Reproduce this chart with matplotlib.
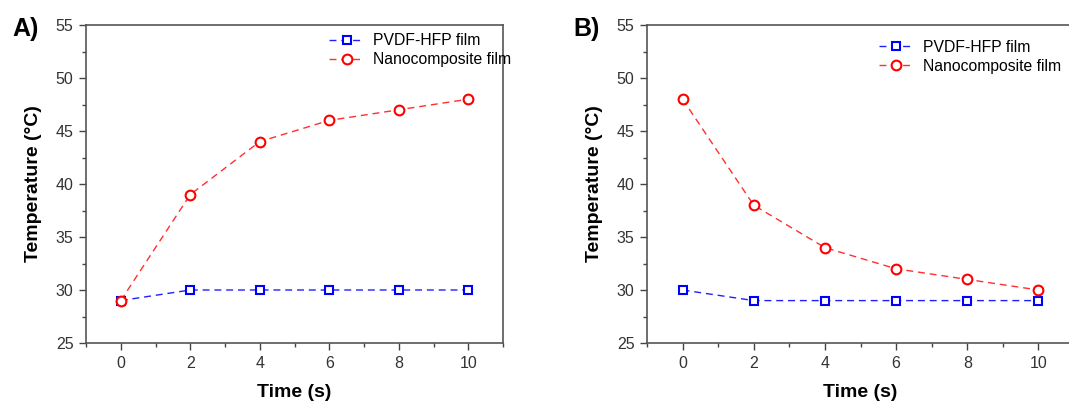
import matplotlib
matplotlib.use('Agg')
import matplotlib.pyplot as plt
from matplotlib.ticker import MultipleLocator

plt.rcParams['font.family'] = ['Liberation Sans', 'DejaVu Sans']

time_s = [0, 2, 4, 6, 8, 10]
heat_pvdf = [29, 30, 30, 30, 30, 30]
heat_nano = [29, 39, 44, 46, 47, 48]
cool_pvdf = [30, 29, 29, 29, 29, 29]
cool_nano = [48, 38, 34, 32, 31, 30]

panels = [
    ('A)', heat_pvdf, heat_nano, [86, 25, 503, 343], (0.565, 0.998)),
    ('B)', cool_pvdf, cool_nano, [647, 25, 1074, 343], (0.524, 0.978)),
]

W, H = 1069, 401
fig = plt.figure(figsize=(W / 100, H / 100), dpi=100)

for tag, pvdf, nano, box, leg_anchor in panels:
    x0, y0, x1, y1 = box
    ax = fig.add_axes([x0 / W, 1 - y1 / H, (x1 - x0) / W, (y1 - y0) / H])
    ax.plot(time_s, pvdf, ls='--', dashes=(5, 3.5), color='#2020ff', lw=1,
            marker='s', ms=5.5, mfc='white', mec='#0000ff', mew=1.5,
            label='PVDF-HFP film')
    ax.plot(time_s, nano, ls='--', dashes=(5, 3.5), color='#ff3030', lw=1,
            marker='o', ms=7, mfc='white', mec='#ff0000', mew=1.5,
            label='Nanocomposite film')
    ax.set_xlim(-1, 11)
    ax.set_ylim(25, 55)
    ax.xaxis.set_major_locator(MultipleLocator(2))
    ax.xaxis.set_minor_locator(MultipleLocator(1))
    ax.yaxis.set_major_locator(MultipleLocator(5))
    ax.yaxis.set_minor_locator(MultipleLocator(2.5))
    ax.tick_params(which='both', direction='out', color='#444444',
                   labelsize=11.5, labelcolor='#333333')
    ax.tick_params(which='major', length=5, width=1, pad=4)
    ax.tick_params(which='minor', length=3, width=1)
    for sp in ax.spines.values():
        sp.set_color('#555555')
        sp.set_linewidth(1.2)
    ax.set_xlabel('Time (s)', fontsize=14, fontweight='bold', labelpad=10)
    ax.set_ylabel('Temperature (\u00b0C)', fontsize=14, fontweight='bold',
                  labelpad=10)
    ax.legend(loc='upper left', bbox_to_anchor=leg_anchor, frameon=False,
              fontsize=11.3, handlelength=2.2, handletextpad=0.6,
              labelspacing=0.25, borderpad=0)
    fig.text((x0 - 74) / W, 1 - 29 / H, tag, fontsize=18, fontweight='bold',
             va='center', ha='left')

fig.savefig('out.png', dpi=100)
